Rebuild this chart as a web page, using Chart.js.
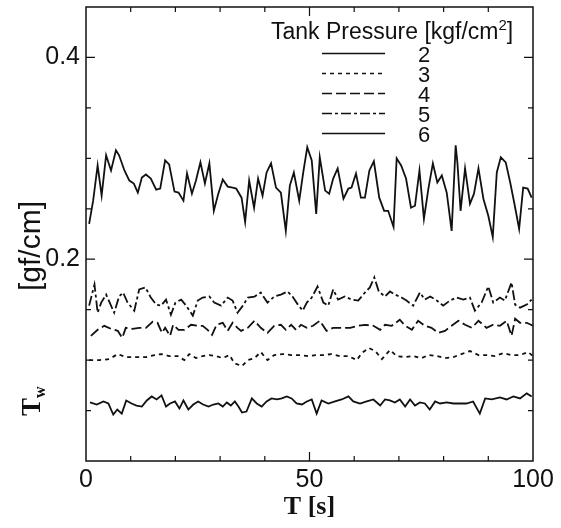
<!DOCTYPE html>
<html>
<head>
<meta charset="utf-8">
<script src="https://cdn.jsdelivr.net/npm/chart.js@4.4.1/dist/chart.umd.min.js"></script>
<style>
  html, body { margin: 0; padding: 0; background: #fff; }
</style>
</head>
<body>
<canvas id="chart" width="561" height="528"></canvas>
<script>
// tank pressure [kgf/cm2] for each curve
const pressures = ["2", "3", "4", "5", "6"];

// time [s] and Tw [gf/cm]
const t2 = [0.9,2.4,3.9,5.0,6.1,7.0,8.0,9.0,10.2,11.3,12.5,13.6,14.7,15.8,16.9,17.9,18.8,19.9,20.9,21.8,22.9,24.0,25.1,26.2,27.4,28.5,29.6,30.6,31.5,32.4,33.3,34.1,34.9,35.9,37.1,38.2,39.3,40.4,41.5,42.7,43.8,44.9,46.0,47.1,48.3,
  49.4,50.5,51.6,52.7,54.2,55.7,57.2,58.7,59.8,61.3,62.8,64.3,65.8,66.9,68.0,69.1,70.2,71.4,72.5,73.6,74.7,75.8,76.9,78.1,79.2,80.7,82.2,83.7,85.1,86.6,88.1,89.3,90.8,92.6,94.1,95.6,97.1,98.6,99.7];
const tw2 = [0.058,0.056,0.059,0.057,0.046,0.051,0.047,0.060,0.057,0.055,0.054,0.060,0.064,0.061,0.065,0.054,0.057,0.059,0.052,0.060,0.051,0.056,0.059,0.056,0.054,0.056,0.057,0.054,0.058,0.055,0.059,0.054,0.048,0.049,0.062,0.057,0.054,0.059,0.062,0.061,0.062,0.064,0.062,0.057,0.056,
  0.059,0.061,0.047,0.060,0.057,0.059,0.061,0.064,0.059,0.057,0.059,0.061,0.055,0.061,0.060,0.058,0.061,0.054,0.061,0.055,0.058,0.057,0.051,0.059,0.057,0.058,0.057,0.057,0.057,0.059,0.047,0.062,0.061,0.063,0.061,0.064,0.062,0.067,0.064];

const t3 = [0.7,3.0,5.2,7.1,8.9,11.2,13.4,15.3,16.8,18.6,20.5,22.0,23.1,24.6,26.1,27.6,29.1,30.6,32.1,33.2,34.9,36.2,37.7,39.1,40.6,42.1,44.0,45.9,47.7,
  49.7,51.6,53.1,54.9,56.8,58.7,60.6,61.7,63.3,64.7,66.2,68.0,69.5,71.4,73.2,75.1,76.6,78.5,80.3,82.2,84.0,85.9,87.8,89.6,91.5,93.4,95.2,97.1,98.9,100];
const tw3 = [0.100,0.100,0.101,0.106,0.103,0.103,0.103,0.105,0.106,0.104,0.104,0.100,0.106,0.102,0.104,0.105,0.104,0.102,0.105,0.097,0.094,0.100,0.102,0.108,0.100,0.105,0.106,0.105,0.105,
  0.104,0.105,0.105,0.106,0.104,0.104,0.100,0.107,0.112,0.109,0.101,0.110,0.104,0.103,0.104,0.102,0.105,0.104,0.102,0.103,0.106,0.109,0.105,0.105,0.104,0.107,0.105,0.105,0.108,0.104];

const t4 = [1.1,2.6,4.1,5.6,7.1,8.1,8.9,10.4,11.9,13.4,14.9,16.0,17.0,17.7,18.8,19.5,20.7,22.0,23.5,25.0,26.1,27.2,28.2,29.2,30.6,31.7,32.8,33.9,34.7,36.2,37.7,39.1,40.6,42.1,43.6,44.7,45.9,47.0,48.1,
  49.4,50.8,52.3,53.8,55.3,57.2,59.1,60.9,62.4,64.3,65.8,66.9,68.4,70.2,71.4,72.9,74.3,75.8,77.3,78.8,80.3,81.8,83.3,84.8,86.3,87.8,89.6,91.1,92.6,94.1,95.2,96.0,97.1,98.6,100];
const tw4 = [0.124,0.130,0.134,0.131,0.129,0.122,0.132,0.131,0.132,0.132,0.138,0.137,0.127,0.132,0.124,0.135,0.130,0.130,0.135,0.134,0.134,0.130,0.125,0.135,0.137,0.129,0.137,0.132,0.129,0.132,0.139,0.132,0.127,0.134,0.135,0.130,0.135,0.130,0.135,
  0.132,0.134,0.139,0.129,0.132,0.132,0.132,0.134,0.135,0.134,0.130,0.135,0.134,0.140,0.134,0.130,0.139,0.134,0.132,0.127,0.129,0.134,0.139,0.135,0.132,0.139,0.132,0.135,0.134,0.139,0.124,0.141,0.137,0.137,0.134];

const t5 = [0.7,1.9,2.6,3.4,4.5,5.6,6.3,7.4,8.3,9.3,10.8,11.9,13.3,14.5,15.7,16.8,17.9,19.0,20.0,21.3,22.4,23.9,25.0,26.1,27.6,28.7,30.2,31.7,32.8,33.9,35.1,36.2,37.7,39.1,40.6,42.1,43.6,45.1,46.2,47.4,48.5,
  49.4,50.5,51.8,53.1,54.2,55.3,56.4,57.9,59.4,60.9,62.4,63.5,64.5,65.5,66.9,68.0,69.1,70.6,71.7,73.2,74.7,75.8,77.0,78.5,79.9,81.4,82.9,84.4,85.9,87.0,88.5,90.0,91.1,92.6,93.7,95.2,96.0,97.1,98.6,99.7];
const tw5 = [0.154,0.175,0.147,0.157,0.165,0.154,0.147,0.163,0.167,0.157,0.149,0.170,0.172,0.162,0.155,0.154,0.160,0.145,0.157,0.160,0.154,0.144,0.159,0.162,0.163,0.157,0.154,0.162,0.159,0.147,0.154,0.162,0.163,0.167,0.157,0.163,0.165,0.168,0.163,0.155,0.149,
  0.157,0.162,0.173,0.157,0.154,0.170,0.160,0.163,0.160,0.159,0.167,0.172,0.182,0.168,0.163,0.168,0.165,0.162,0.159,0.154,0.167,0.160,0.163,0.159,0.154,0.159,0.162,0.160,0.162,0.149,0.157,0.173,0.157,0.162,0.159,0.177,0.155,0.152,0.155,0.160];

const t6 = [0.7,1.6,2.6,3.5,4.5,5.6,6.7,7.4,8.6,9.7,10.7,11.6,12.5,13.4,14.5,15.7,16.6,17.7,18.6,19.8,20.7,21.8,22.6,23.7,24.6,25.6,26.6,27.6,28.6,29.6,30.6,31.7,32.8,33.6,34.8,35.6,36.5,37.6,38.5,39.5,40.4,41.4,42.5,43.6,44.7,45.6,46.5,47.7,48.6,49.5,
  50.5,51.5,52.3,53.5,54.4,55.3,56.3,57.6,58.7,59.4,60.4,61.5,62.4,63.4,64.4,65.6,66.7,67.6,68.8,69.5,70.5,71.6,72.7,73.6,74.6,75.6,76.6,77.6,78.6,79.6,80.7,81.8,82.7,83.1,83.8,84.8,85.9,86.8,87.8,88.9,90.0,91.0,91.9,92.8,93.9,94.9,95.8,96.9,97.8,98.8,99.7];
const tw6 = [0.235,0.258,0.293,0.263,0.303,0.288,0.308,0.303,0.288,0.278,0.275,0.266,0.281,0.284,0.280,0.269,0.270,0.298,0.294,0.267,0.266,0.258,0.285,0.265,0.278,0.296,0.275,0.295,0.248,0.265,0.279,0.272,0.271,0.270,0.261,0.237,0.278,0.251,0.280,0.263,0.286,0.295,0.271,0.266,0.228,0.273,0.286,0.258,0.286,0.311,
  0.298,0.245,0.301,0.268,0.265,0.280,0.290,0.260,0.270,0.271,0.285,0.261,0.261,0.288,0.297,0.261,0.248,0.248,0.232,0.300,0.293,0.280,0.251,0.253,0.288,0.240,0.270,0.295,0.276,0.283,0.266,0.228,0.313,0.295,0.248,0.290,0.255,0.265,0.290,0.260,0.243,0.222,0.286,0.301,0.296,0.276,0.256,0.230,0.271,0.270,0.261];

const xTicks = [0, 50, 100];
const yTicks = [0.2, 0.4];

const times = [t2, t3, t4, t5, t6];
const values = [tw2, tw3, tw4, tw5, tw6];
const dashes = [[], [4, 4], [10, 4], [10, 3, 3, 3], []];

function points(t, v) {
  return t.map((x, i) => ({ x: x, y: v[i] }));
}

const INK = "#111";
const SANS = "'Liberation Sans', Arial, sans-serif";
const SERIF = "'Liberation Serif', 'Times New Roman', serif";

// frame with inward ticks on all four sides, axis titles and the legend
const frame = {
  id: "frame",
  afterDraw(chart) {
    const { ctx, chartArea: a, scales: { x, y } } = chart;
    ctx.save();
    ctx.strokeStyle = INK;
    ctx.lineWidth = 1.5;
    ctx.strokeRect(a.left, a.top, a.right - a.left, a.bottom - a.top);
    ctx.lineWidth = 1.2;
    ctx.beginPath();
    for (let v = 10; v < 100; v += 10) {
      const px = x.getPixelForValue(v);
      const len = v === 50 ? 9 : 5;
      ctx.moveTo(px, a.bottom); ctx.lineTo(px, a.bottom - len);
      ctx.moveTo(px, a.top); ctx.lineTo(px, a.top + len);
    }
    for (let k = 1; k <= 8; k++) {
      const py = y.getPixelForValue(k * 0.05);
      const len = k % 4 === 0 ? 9 : 5;
      ctx.moveTo(a.left, py); ctx.lineTo(a.left + len, py);
      ctx.moveTo(a.right, py); ctx.lineTo(a.right - len, py);
    }
    ctx.stroke();

    // axis titles
    ctx.fillStyle = INK;
    ctx.textBaseline = "alphabetic";
    ctx.font = "bold 26px " + SERIF;
    ctx.textAlign = "center";
    ctx.fillText("T [s]", (a.left + a.right) / 2, 514);

    ctx.save();
    ctx.translate(40, 0);
    ctx.rotate(-Math.PI / 2);
    ctx.textAlign = "left";
    ctx.font = "bold 27px " + SERIF;
    ctx.fillText("T", -416, 0);
    const tw = ctx.measureText("T").width;
    ctx.font = "bold 16px " + SERIF;
    ctx.fillText("w", -416 + tw, 5);
    ctx.font = "30px " + SANS;
    ctx.fillText("[gf/cm]", -291, 0);
    ctx.restore();

    // legend
    ctx.textAlign = "left";
    ctx.font = "23px " + SANS;
    let lx = 271;
    ctx.fillText("Tank Pressure [kgf/cm", lx, 39);
    lx += ctx.measureText("Tank Pressure [kgf/cm").width;
    ctx.font = "15px " + SANS;
    ctx.fillText("2", lx, 30);
    lx += ctx.measureText("2").width;
    ctx.font = "23px " + SANS;
    ctx.fillText("]", lx, 39);

    chart.data.datasets.forEach((ds, i) => {
      const ly = 53.5 + i * 20;
      ctx.setLineDash(ds.borderDash);
      ctx.lineWidth = 1.5;
      ctx.beginPath();
      ctx.moveTo(322, ly); ctx.lineTo(385, ly);
      ctx.stroke();
      ctx.setLineDash([]);
      ctx.font = "22px " + SANS;
      ctx.fillText(ds.label, 418, ly + 8);
    });
    ctx.restore();
  }
};

new Chart(document.getElementById("chart"), {
  type: "line",
  data: {
    datasets: pressures.map((p, i) => ({
      label: p,
      data: points(times[i], values[i]),
      borderColor: INK,
      borderWidth: 1.8,
      borderDash: dashes[i],
      pointRadius: 0,
      tension: 0,
      fill: false
    }))
  },
  options: {
    responsive: false,
    animation: false,
    devicePixelRatio: 1,
    layout: { padding: { top: 7, right: 28, left: 0, bottom: 0 } },
    plugins: { legend: { display: false }, tooltip: { enabled: false } },
    scales: {
      x: {
        type: "linear",
        min: 0,
        max: 100,
        grid: { display: false, drawTicks: false, tickLength: 0 },
        border: { display: false },
        afterBuildTicks: s => { s.ticks = xTicks.map(v => ({ value: v })); },
        afterFit: s => { s.height = 67; s.paddingLeft = 0; s.paddingRight = 0; },
        ticks: {
          color: INK,
          padding: 4,
          maxRotation: 0,
          autoSkip: false,
          font: { family: SANS, size: 25 },
          callback: v => String(v)
        }
      },
      y: {
        min: 0,
        max: 0.45,
        grid: { display: false, drawTicks: false, tickLength: 0 },
        border: { display: false },
        afterBuildTicks: s => { s.ticks = yTicks.map(v => ({ value: v })); },
        afterFit: s => { s.width = 86; s.paddingTop = 0; s.paddingBottom = 0; },
        ticks: {
          color: INK,
          padding: 6,
          font: { family: SANS, size: 25 },
          callback: v => v.toFixed(1)
        }
      }
    }
  },
  plugins: [frame]
});
</script>
</body>
</html>
